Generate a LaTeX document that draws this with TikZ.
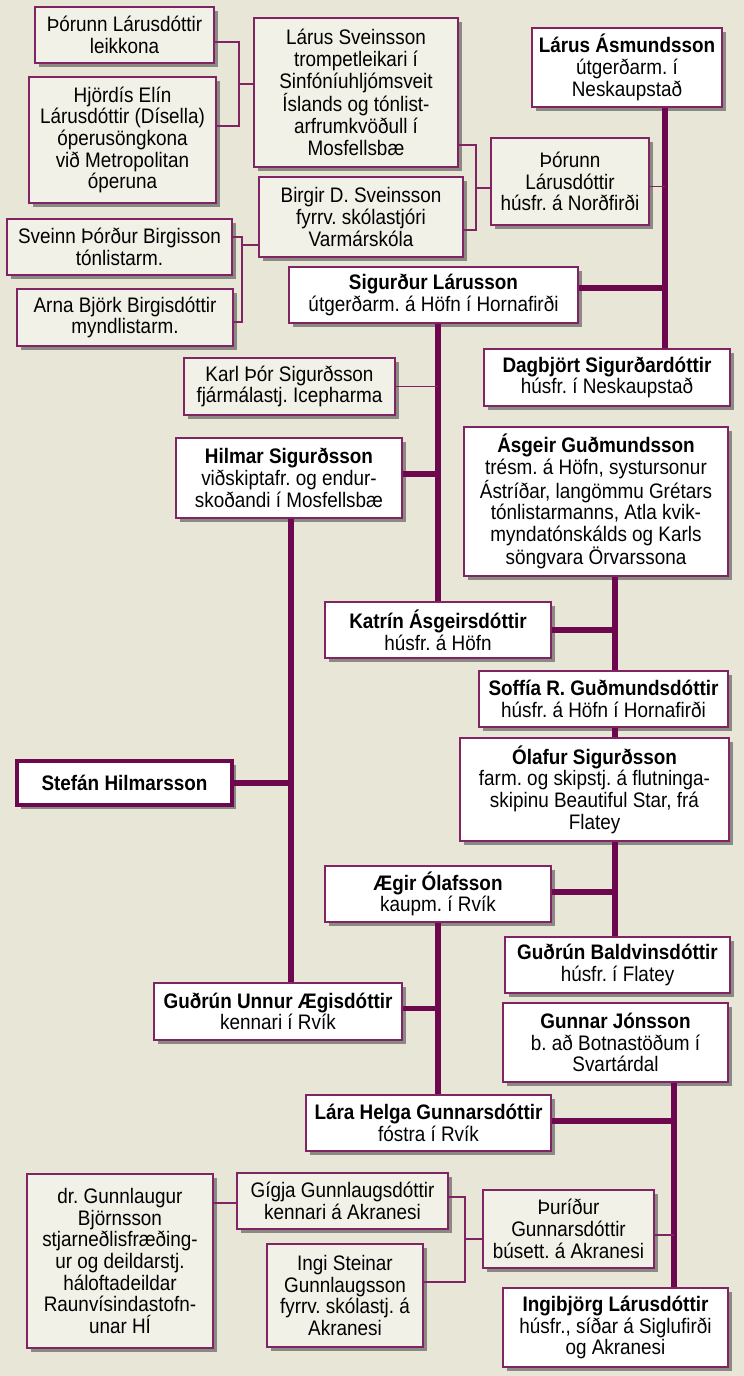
\documentclass[tikz,border=0pt]{standalone}
\usepackage{fontspec}
\setmainfont[FakeStretch=0.9]{Liberation Sans}
\usepackage{tikz}
\usetikzlibrary{shadows,calc}
\definecolor{paper}{RGB}{232,230,214}
\definecolor{plum}{RGB}{110,8,78}
\definecolor{rim}{RGB}{128,36,100}
\definecolor{kinfill}{RGB}{242,241,231}
\tikzstyle{trunk} = [plum, line width=5.5pt]
\tikzstyle{twig} = [rim, line width=1.6pt]
\frenchspacing

\begin{document}
\begin{tikzpicture}
	[x=1pt, y=-1pt,
	every node/.style={font=\fontsize{21}{21.7}\selectfont, align=center, inner sep=0pt},
	elder/.style={draw=rim, line width=1.6pt, fill=white,
		drop shadow={shadow xshift=3.5pt, shadow yshift=-4pt, opacity=.6, fill=black!70}},
	kin/.style={elder, fill=kinfill},
	self/.style={elder, draw=plum, line width=4pt}]
	\fill[paper] (0,0) rectangle (744,1376);
	\useasboundingbox (0,0) rectangle (744,1376);

	% relatives, top left
	\node[kin, minimum width=179pt, minimum height=56pt] (thorunnl) at (124.5,35)
		{Þórunn Lárusdóttir\\leikkona};
	\node[kin, minimum width=187pt, minimum height=126pt] (hjordis) at (122.5,140)
		{Hjördís Elín\\Lárusdóttir (Dísella)\\óperusöngkona\\við Metropolitan\\óperuna};
	\node[kin, minimum width=204pt, minimum height=149pt] (larussv) at (356,92.5)
		{Lárus Sveinsson\\trompetleikari í\\Sinfóníuhljómsveit\\Íslands og tónlist-\\arfrumkvöðull í\\Mosfellsbæ};
	\node[kin, minimum width=204pt, minimum height=80pt] (birgir) at (361,217)
		{Birgir D. Sveinsson\\fyrrv. skólastjóri\\Varmárskóla};
	\node[kin, minimum width=158pt, minimum height=87pt] (thorunnh) at (570,181.5)
		{Þórunn\\Lárusdóttir\\húsfr. á Norðfirði};
	\node[kin, minimum width=225pt, minimum height=56pt] (sveinn) at (119.5,247)
		{Sveinn Þórður Birgisson\\tónlistarm.};
	\node[kin, minimum width=216pt, minimum height=57pt] (arna) at (125,317.5)
		{Arna Björk Birgisdóttir\\myndlistarm.};
	\node[kin, minimum width=211pt, minimum height=57pt] (karl) at (289.5,386.5)
		{Karl Þór Sigurðsson\\fjármálastj. Icepharma};

	% the line
	\node[elder, minimum width=190pt, minimum height=79pt] (larusa) at (627,67.5)
		{\textbf{Lárus Ásmundsson}\\útgerðarm. í\\Neskaupstað};
	\node[elder, minimum width=289pt, minimum height=56pt] (sigurdur) at (433.5,295)
		{\textbf{Sigurður Lárusson}\\útgerðarm. á Höfn í Hornafirði};
	\node[elder, minimum width=246pt, minimum height=57pt] (dagbjort) at (607,377.5)
		{\textbf{Dagbjört Sigurðardóttir}\\húsfr. í Neskaupstað};
	\node[elder, minimum width=226pt, minimum height=80pt] (hilmar) at (289,478)
		{\textbf{Hilmar Sigurðsson}\\viðskiptafr. og endur-\\skoðandi í Mosfellsbæ};
	\node[elder, minimum width=264pt, minimum height=149pt] (asgeir) at (596,501.5)
		{\textbf{Ásgeir Guðmundsson}\\trésm. á Höfn, systursonur\\Ástríðar, langömmu Grétars\\tónlistarmanns, Atla kvik-\\myndatónskálds og Karls\\söngvara Örvarssona};
	\node[elder, minimum width=226pt, minimum height=56pt] (katrin) at (438,630)
		{\textbf{Katrín Ásgeirsdóttir}\\húsfr. á Höfn};
	\node[elder, minimum width=249pt, minimum height=56pt] (soffia) at (603.5,699)
		{\textbf{Soffía R. Guðmundsdóttir}\\húsfr. á Höfn í Hornafirði};
	\node[elder, minimum width=269pt, minimum height=103pt] (olafur) at (594.5,789.5)
		{\textbf{Ólafur Sigurðsson}\\farm. og skipstj. á flutninga-\\skipinu Beautiful Star, frá\\Flatey};
	\node[self, minimum width=215pt, minimum height=44pt] (stefan) at (124.5,783)
		{\textbf{Stefán Hilmarsson}};
	\node[elder, minimum width=226pt, minimum height=56pt] (aegir) at (438,894)
		{\textbf{Ægir Ólafsson}\\kaupm. í Rvík};
	\node[elder, minimum width=225pt, minimum height=56pt] (gudrunb) at (617.5,965)
		{\textbf{Guðrún Baldvinsdóttir}\\húsfr. í Flatey};
	\node[elder, minimum width=248pt, minimum height=57pt] (gudrunu) at (278,1011.5)
		{\textbf{Guðrún Unnur Ægisdóttir}\\kennari í Rvík};
	\node[elder, minimum width=225pt, minimum height=79pt] (gunnar) at (615.5,1042.5)
		{\textbf{Gunnar Jónsson}\\b. að Botnastöðum í\\Svartárdal};
	\node[elder, minimum width=245pt, minimum height=56pt] (lara) at (428.5,1123)
		{\textbf{Lára Helga Gunnarsdóttir}\\fóstra í Rvík};
	\node[elder, minimum width=225pt, minimum height=79pt] (ingibjorg) at (615.5,1327.5)
		{\textbf{Ingibjörg Lárusdóttir}\\húsfr., síðar á Siglufirði\\og Akranesi};

	% relatives, bottom
	\node[kin, minimum width=171pt, minimum height=78pt] (thuridur) at (568.5,1229)
		{Þuríður\\Gunnarsdóttir\\búsett. á Akranesi};
	\node[kin, minimum width=211pt, minimum height=56pt] (gigja) at (342.5,1201)
		{Gígja Gunnlaugsdóttir\\kennari á Akranesi};
	\node[kin, minimum width=156pt, minimum height=103pt] (ingi) at (345,1295.5)
		{Ingi Steinar\\Gunnlaugsson\\fyrrv. skólastj. á\\Akranesi};
	\node[kin, minimum width=186pt, minimum height=174pt] (gunnlaugur) at (120,1261)
		{dr. Gunnlaugur\\Björnsson\\stjarneðlisfræðing-\\ur og deildarstj.\\háloftadeildar\\Raunvísindastofn-\\unar HÍ};

	% trunk columns and junctions
	\coordinate (c1) at (665,0);
	\coordinate (c2) at (438,0);
	\coordinate (c3) at (291,0);
	\coordinate (c4) at (615,0);
	\coordinate (c5) at (674,0);
	\coordinate (j1) at (239,84);
	\coordinate (j2) at (476,188);
	\coordinate (j3) at (242,245);
	\coordinate (j4) at (465,1239);

	\draw[trunk] (larusa.south -| c1) -- (dagbjort.north -| c1);
	\draw[trunk] ([yshift=7pt]sigurdur.east) -- ([yshift=7pt]sigurdur.east -| c1);
	\draw[twig] ([yshift=-5pt]thorunnh.east) -- ([yshift=-5pt]thorunnh.east -| c1);

	\draw[trunk] (sigurdur.south -| c2) -- (katrin.north -| c2);
	\draw[twig] (karl.east) -- (karl.east -| c2);
	\draw[trunk] ([yshift=4pt]hilmar.east) -- ([yshift=4pt]hilmar.east -| c2);

	\draw[trunk] (hilmar.south -| c3) -- (gudrunu.north -| c3);
	\draw[trunk] (stefan.east) -- (stefan.east -| c3);

	\draw[trunk] (asgeir.south -| c4) -- (soffia.north -| c4);
	\draw[trunk] (katrin.east) -- (katrin.east -| c4);
	\draw[trunk] (soffia.south -| c4) -- (olafur.north -| c4);
	\draw[trunk] (olafur.south -| c4) -- (gudrunb.north -| c4);
	\draw[trunk] ([yshift=2pt]aegir.east) -- ([yshift=2pt]aegir.east -| c4);

	\draw[trunk] (aegir.south -| c2) -- (lara.north -| c2);
	\draw[trunk] ([yshift=3pt]gudrunu.east) -- ([yshift=3pt]gudrunu.east -| c2);

	\draw[trunk] (gunnar.south -| c5) -- (ingibjorg.north -| c5);
	\draw[trunk] ([yshift=2pt]lara.east) -- ([yshift=2pt]lara.east -| c5);
	\draw[twig] ([yshift=-6pt]thuridur.east) -- ([yshift=-6pt]thuridur.east -| c5);

	% brackets to relatives
	\draw[twig] ([yshift=-7pt]thorunnl.east) -| (j1) |- ([yshift=14pt]hjordis.east);
	\draw[twig] (j1) -- (larussv.west |- j1);
	\draw[twig] ([yshift=-52.5pt]larussv.east) -| (j2) |- ([yshift=-13pt]birgir.east);
	\draw[twig] (j2) -- (thorunnh.west |- j2);
	\draw[twig] ([yshift=10pt]sveinn.east) -| (j3) |- ([yshift=-4.5pt]arna.east);
	\draw[twig] (j3) -- (birgir.west |- j3);
	\draw[twig] ([yshift=4pt]gigja.east) -| (j4) |- ([yshift=13.5pt]ingi.east);
	\draw[twig] (j4) -- (thuridur.west |- j4);
	\draw[twig] ([yshift=-2pt]gigja.west) -- ([yshift=-2pt]gigja.west -| gunnlaugur.east);
\end{tikzpicture}
\end{document}
